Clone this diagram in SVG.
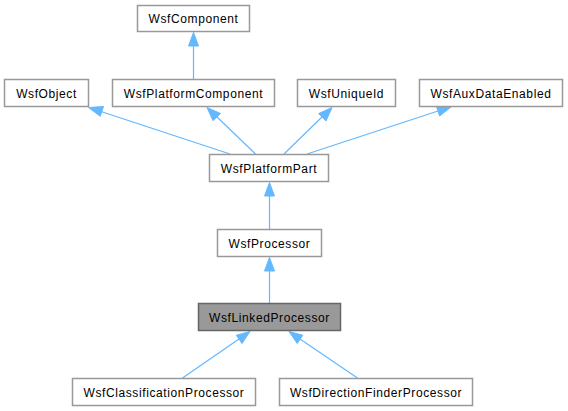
<svg xmlns="http://www.w3.org/2000/svg" width="568" height="411" viewBox="0 0 568 411">
<style>
.n rect{fill:#ffffff;stroke:#999999;stroke-width:1.5}
.n.hl rect{fill:#999999;stroke:#666666}
.n text{font-family:"Liberation Sans",Arial,sans-serif;font-size:12px;letter-spacing:0.6px;fill:#000000;text-anchor:middle}
.e line{stroke:#63b8ff;stroke-width:1.2}
.e polygon{fill:#63b8ff;stroke:#63b8ff;stroke-width:1}
</style>
<rect width="568" height="411" fill="#ffffff"/>
<g id="edges" class="e">
<line x1="193.5" y1="79" x2="193.5" y2="46"/>
<polygon points="193.5,32.5 188.5,46 198.5,46"/>
<line x1="230" y1="154" x2="101" y2="111.5"/>
<polygon points="88.5,107.5 103.5,106.5 100.2,116.3"/>
<line x1="255.5" y1="154" x2="216.5" y2="116.5"/>
<polygon points="207,107.5 220.5,113.5 213,120.7"/>
<line x1="284" y1="154" x2="322.5" y2="116.5"/>
<polygon points="332,107.5 326,121 318.6,113.6"/>
<line x1="307" y1="154" x2="438" y2="111"/>
<polygon points="451,107 439.6,116 436.4,106.3"/>
<line x1="269.5" y1="229" x2="269.5" y2="196"/>
<polygon points="269.5,182.5 264.5,196 274.5,196"/>
<line x1="269.5" y1="303" x2="269.5" y2="271"/>
<polygon points="269.5,257.5 264.5,271 274.5,271"/>
<line x1="182.5" y1="378" x2="239" y2="339"/>
<polygon points="250,331.5 242,343.5 236.3,335.3"/>
<line x1="357.5" y1="378" x2="300" y2="339"/>
<polygon points="289,331.5 302.8,335.3 297.2,343.5"/>
</g>
<g id="WsfComponent" class="n"><rect x="137.5" y="5.5" width="112" height="26"/><text x="193.5" y="23">WsfComponent</text></g>
<g id="WsfObject" class="n"><rect x="4.5" y="79.5" width="84" height="27"/><text x="46.5" y="97.5">WsfObject</text></g>
<g id="WsfPlatformComponent" class="n"><rect x="112.5" y="79.5" width="162" height="27"/><text x="193.5" y="97.5">WsfPlatformComponent</text></g>
<g id="WsfUniqueId" class="n"><rect x="297.5" y="79.5" width="98" height="27"/><text x="346.5" y="97.5">WsfUniqueId</text></g>
<g id="WsfAuxDataEnabled" class="n"><rect x="419.5" y="79.5" width="143" height="27"/><text x="491" y="97.5">WsfAuxDataEnabled</text></g>
<g id="WsfPlatformPart" class="n"><rect x="209.5" y="154.5" width="119" height="27"/><text x="269" y="172.5">WsfPlatformPart</text></g>
<g id="WsfProcessor" class="n"><rect x="217.5" y="229.5" width="104" height="27"/><text x="269.5" y="247.5">WsfProcessor</text></g>
<g id="WsfLinkedProcessor" class="n hl"><rect x="198.5" y="303.5" width="142" height="27"/><text x="269.5" y="321.5">WsfLinkedProcessor</text></g>
<g id="WsfClassificationProcessor" class="n"><rect x="72.5" y="378.5" width="183" height="27"/><text x="164" y="396.5">WsfClassificationProcessor</text></g>
<g id="WsfDirectionFinderProcessor" class="n"><rect x="279.5" y="378.5" width="193" height="27"/><text x="376" y="396.5">WsfDirectionFinderProcessor</text></g>
</svg>
